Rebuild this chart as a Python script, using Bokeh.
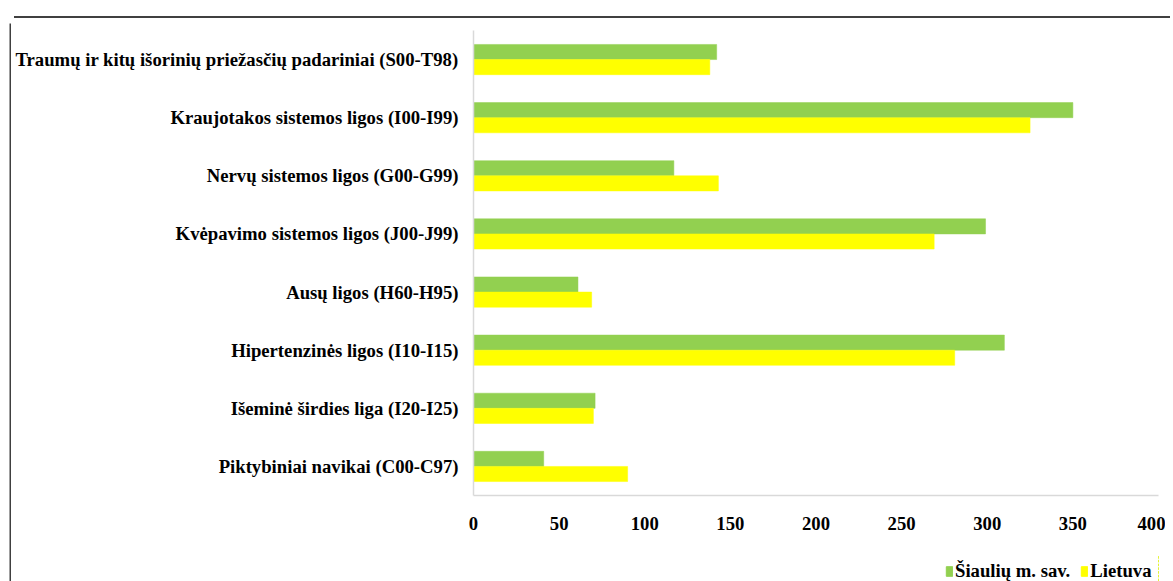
from bokeh.plotting import figure
from bokeh.layouts import column, row
from bokeh.models import (FactorRange, Range1d, Legend, LegendItem, ColumnDataSource,
                          FixedTicker, Spacer, Div)
from bokeh.transform import dodge
from bokeh.embed import file_html
from bokeh.resources import INLINE

categories = [
    "Traumų ir kitų išorinių priežasčių padariniai (S00-T98)",
    "Kraujotakos sistemos ligos (I00-I99)",
    "Nervų sistemos ligos (G00-G99)",
    "Kvėpavimo sistemos ligos (J00-J99)",
    "Ausų ligos (H60-H95)",
    "Hipertenzinės ligos (I10-I15)",
    "Išeminė širdies liga (I20-I25)",
    "Piktybiniai navikai (C00-C97)",
]
siauliai = [142, 350, 117, 299, 61, 310, 71, 41]
lietuva = [138, 325, 143, 269, 69, 281, 70, 90]
series_names = ["Šiaulių m. sav.", "Lietuva"]
x_ticks = [0, 50, 100, 150, 200, 250, 300, 350, 400]

GREEN = "#92D050"
YELLOW = "#FFFF00"
EDGE = "#404040"
FONT = "Liberation Serif"

src = ColumnDataSource(dict(cat=categories, s=siauliai, l=lietuva))

# ---- main chart ----
p = figure(
    y_range=FactorRange(factors=list(reversed(categories)), range_padding=0),
    x_range=Range1d(0, 400),
    width=1154, height=532,
    output_backend="svg", toolbar_location=None,
    min_border_left=462, min_border_right=7, min_border_top=7, min_border_bottom=60,
)

bh = 0.26
p.hbar(y=dodge("cat", bh / 2, range=p.y_range), right="s", left=0, height=bh,
       source=src, fill_color=GREEN, line_color=GREEN, line_width=0.5)
p.hbar(y=dodge("cat", -bh / 2, range=p.y_range), right="l", left=0, height=bh,
       source=src, fill_color=YELLOW, line_color=YELLOW, line_width=0.5)

p.outline_line_color = None
p.xgrid.grid_line_color = None
p.ygrid.grid_line_color = None

for ax in (p.xaxis, p.yaxis):
    ax.axis_line_color = "#d9d9d9"
    ax.axis_line_width = 1.5
    ax.major_tick_line_color = None
    ax.minor_tick_line_color = None
    ax.major_tick_out = 0
    ax.major_tick_in = 0
    ax.minor_tick_out = 0
    ax.minor_tick_in = 0
    ax.major_label_text_font = FONT
    ax.major_label_text_font_style = "bold"
    ax.major_label_text_font_size = "18.7px"
    ax.major_label_text_color = "black"

p.xaxis.ticker = FixedTicker(ticks=x_ticks)
p.xaxis.major_label_standoff = 21
p.yaxis.major_label_standoff = 15

# ---- legend strip under the chart (its own small plot; bars kept off-range) ----
lf = figure(width=1154, height=30, output_backend="svg", toolbar_location=None,
            x_axis_type=None, y_axis_type=None, min_border=0,
            x_range=Range1d(-2, -1), y_range=FactorRange(factors=categories))
lf.outline_line_color = None
lf.grid.visible = False
g1 = lf.hbar(y="cat", right="s", left=0, height=0.5, source=src,
             fill_color=GREEN, line_color=GREEN)
g2 = lf.hbar(y="cat", right="l", left=0, height=0.5, source=src,
             fill_color=YELLOW, line_color=YELLOW)
legend = Legend(
    items=[LegendItem(label=series_names[0], renderers=[g1]),
           LegendItem(label=series_names[1], renderers=[g2])],
    orientation="horizontal", location=(472, 3),
    glyph_width=8, glyph_height=12, label_height=16, label_standoff=2, spacing=10,
    padding=0, margin=0, border_line_color=None, background_fill_alpha=0,
    label_text_font=FONT, label_text_font_style="bold", label_text_font_size="18.7px",
    label_text_color="black",
)
lf.add_layout(legend, "center")

# ---- dark edge lines of the chart area (top and left) ----
top_edge = Div(text="", width=1156, height=2, styles={"background-color": EDGE})
left_edge = figure(width=2, height=562, output_backend="svg", toolbar_location=None,
                   x_axis_type=None, y_axis_type=None, min_border=0,
                   x_range=Range1d(0, 1), y_range=Range1d(0, 1),
                   border_fill_color=EDGE, background_fill_color=EDGE)
left_edge.outline_line_color = None
left_edge.grid.visible = False

layout = column(
    Spacer(width=10, height=11),
    row(Spacer(width=9, height=2), top_edge),
    row(Spacer(width=9, height=562), left_edge, column(p, lf)),
)

open("out.html", "w").write(file_html(layout, INLINE))
